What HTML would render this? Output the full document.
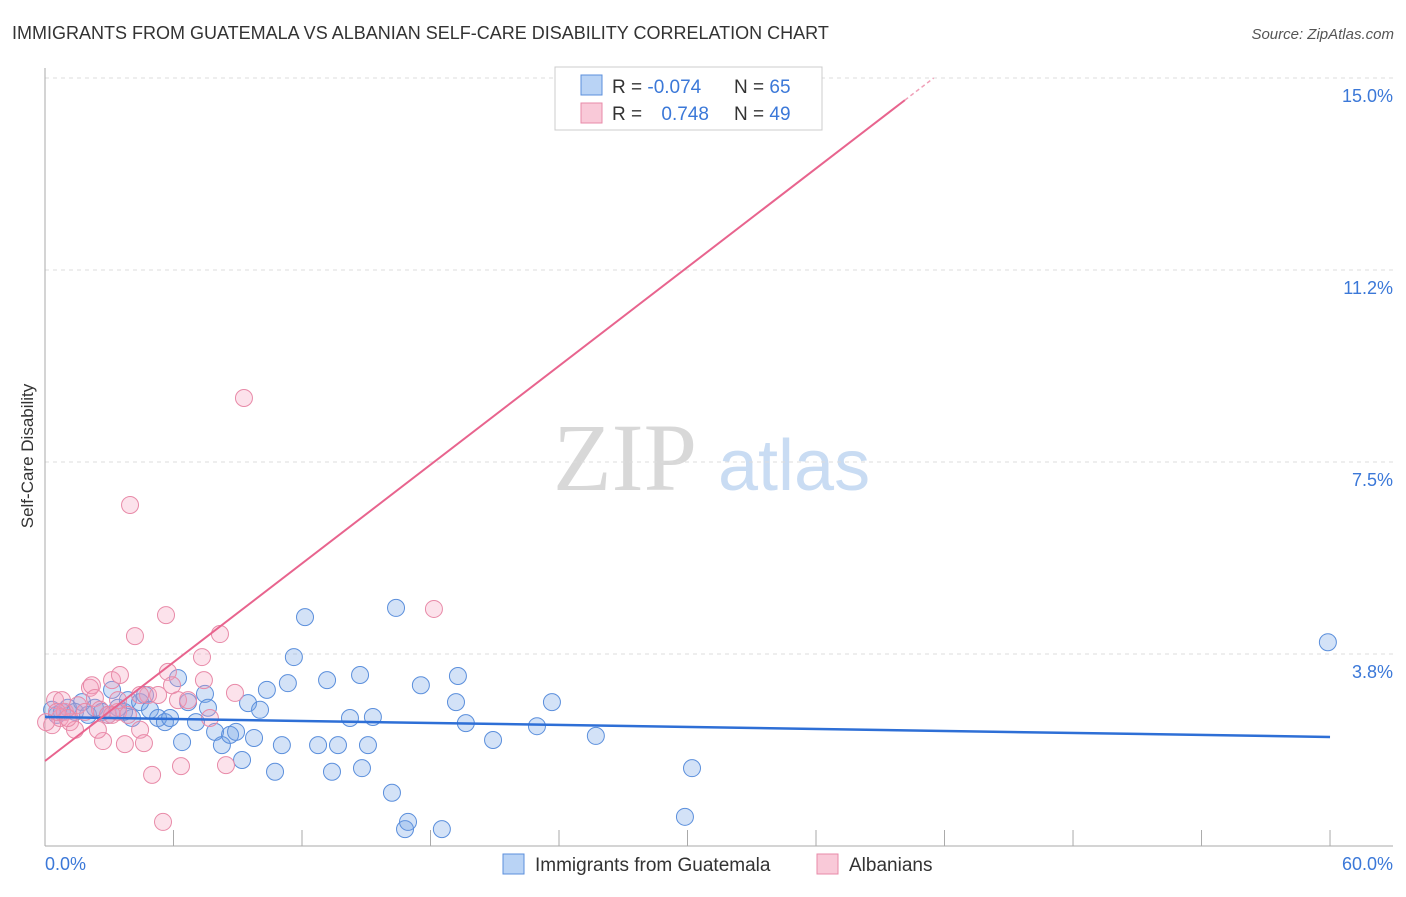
<!DOCTYPE html>
<html><head><meta charset="utf-8"><style>
body{margin:0;background:#fff;font-family:"Liberation Sans",sans-serif}
</style></head><body>
<svg id="chart" width="1406" height="892" xmlns="http://www.w3.org/2000/svg" font-family="Liberation Sans, sans-serif">
<text x="12" y="39" font-size="18" fill="#333">IMMIGRANTS FROM GUATEMALA VS ALBANIAN SELF-CARE DISABILITY CORRELATION CHART</text>
<text x="1394" y="39" font-size="15" fill="#555" text-anchor="end" font-style="italic">Source: ZipAtlas.com</text>
<text x="553" y="490" font-size="96" fill="#d8d8d8" font-family="Liberation Serif, serif">ZIP</text>
<text x="718" y="490" font-size="72" fill="#c9dcf3">atlas</text>
<text transform="translate(33,456) rotate(-90)" font-size="17" fill="#333" text-anchor="middle">Self-Care Disability</text>
<g id="grid"></g><g id="pts"></g><g id="lines"></g>
<g>
<rect x="555" y="67" width="267" height="63" fill="#fff" stroke="#ccc"/>
<rect x="581" y="75" width="21" height="20" fill="#b9d3f5" stroke="#5b8fdc"/>
<rect x="581" y="103" width="21" height="20" fill="#f9c9d8" stroke="#e88aa8"/>
<text x="612" y="93" font-size="19" fill="#333">R = <tspan fill="#3b78d8">-0.074</tspan></text>
<text x="734" y="93" font-size="19" fill="#333">N = <tspan fill="#3b78d8">65</tspan></text>
<text x="612" y="120" font-size="19" fill="#333">R = <tspan fill="#3b78d8" dx="14">0.748</tspan></text>
<text x="734" y="120" font-size="19" fill="#333">N = <tspan fill="#3b78d8">49</tspan></text>
</g>
<g>
<rect x="503" y="854" width="21" height="20" fill="#b9d3f5" stroke="#5b8fdc"/>
<text x="535" y="871" font-size="19" fill="#333">Immigrants from Guatemala</text>
<rect x="817" y="854" width="21" height="20" fill="#f9c9d8" stroke="#e88aa8"/>
<text x="849" y="871" font-size="19" fill="#333">Albanians</text>
</g>
</svg>
<script>
const blueX=[0.33,0.56,0.79,1.07,1.40,1.73,2.01,2.33,2.66,2.94,3.13,3.41,3.69,3.87,4.06,4.44,4.67,4.90,5.28,5.60,5.84,6.21,6.40,6.68,7.05,7.47,7.61,7.94,8.26,8.64,8.92,9.20,9.48,9.76,10.04,10.36,10.74,11.06,11.34,11.62,12.14,12.75,13.17,13.40,13.68,14.24,14.71,14.80,15.08,15.31,16.20,16.39,16.81,16.95,17.55,18.53,19.19,19.28,19.65,20.92,22.97,23.67,25.72,29.88,30.21,59.90];
const blueY=[2.66,2.56,2.62,2.70,2.62,2.81,2.56,2.70,2.62,2.56,3.05,2.70,2.62,2.85,2.50,2.81,2.95,2.66,2.50,2.42,2.50,3.28,2.03,2.81,2.42,2.97,2.70,2.23,1.97,2.17,2.23,1.68,2.79,2.11,2.66,3.05,1.45,1.97,3.18,3.69,4.47,1.97,3.24,1.45,1.97,2.50,3.34,1.52,1.97,2.52,1.04,4.65,0.33,0.47,3.14,0.33,2.81,3.32,2.40,2.07,2.34,2.81,2.15,0.57,1.52,3.98];
const pinkX=[0.33,0.47,0.70,0.93,1.17,1.40,1.54,1.87,2.10,2.19,2.33,2.57,2.71,2.94,3.13,3.41,3.50,3.73,3.97,4.20,4.44,4.62,4.81,5.00,5.28,5.51,5.65,5.74,5.93,6.21,6.35,6.68,7.33,7.42,7.70,8.17,8.45,8.87,9.29,18.16,3.13,2.47,0.79,4.44,3.41,0.56,1.07,3.87,0.05];
const pinkY=[2.36,2.85,2.50,2.62,2.42,2.27,2.75,2.62,3.09,3.14,2.89,2.66,2.05,2.56,3.24,2.62,3.34,1.99,6.66,4.10,2.27,2.01,2.95,1.39,2.95,0.47,4.51,3.40,3.14,2.85,1.56,2.85,3.69,3.24,2.50,4.14,1.58,2.99,8.75,4.63,2.56,2.27,2.85,2.95,2.85,2.62,2.50,2.56,2.42];
const yTicks=[3.75,7.5,11.25,15];
const yTickLabels=["3.8%","7.5%","11.2%","15.0%"];
const xTicks=[0,6,12,18,24,30,36,42,48,54,60];
const blueTrend=[2.52,2.13];
const pinkTrend=[1.66,0.3215];
const NS="http://www.w3.org/2000/svg";
const X=v=>45+v*21.417, Y=v=>846-v*51.2;
function mk(t,a,p){const e=document.createElementNS(NS,t);for(const k in a)e.setAttribute(k,a[k]);document.getElementById(p).appendChild(e);return e;}
yTicks.forEach((v,i)=>{
 const l=mk('line',{x1:45,x2:1393,y1:Y(v),y2:Y(v),stroke:'#ddd','stroke-dasharray':'4,4'},'grid');
 
 
 const t=mk('text',{x:1393,y:Y(v)+24,'font-size':18,fill:'#3b78d8','text-anchor':'end'},'grid');t.textContent=yTickLabels[i];
 
 
});
let ax=mk('line',{x1:45,x2:45,y1:68,y2:846,stroke:'#aaa'},'grid');


ax=mk('line',{x1:45,x2:1393,y1:846,y2:846,stroke:'#aaa'},'grid');


xTicks.forEach(v=>{const l=mk('line',{x1:X(v),x2:X(v),y1:830,y2:846,stroke:'#aaa'},'grid');
 
 });
let t=mk('text',{x:45,y:870,'font-size':18,fill:'#3b78d8'},'grid');t.textContent='0.0%';


t=mk('text',{x:1393,y:870,'font-size':18,fill:'#3b78d8','text-anchor':'end'},'grid');t.textContent='60.0%';


blueX.forEach((v,i)=>{const c=mk('circle',{cx:X(v),cy:Y(blueY[i]),r:8.5,fill:'rgba(110,160,230,0.3)',stroke:'#5b8fdc','stroke-width':1},'pts');
 
 });
pinkX.forEach((v,i)=>{const c=mk('circle',{cx:X(v),cy:Y(pinkY[i]),r:8.5,fill:'rgba(245,160,190,0.3)',stroke:'#e88aa8','stroke-width':1},'pts');
 
 });
let l=mk('line',{x1:X(0),y1:Y(blueTrend[0]),x2:X(60),y2:Y(blueTrend[1]),stroke:'#2e6fd6','stroke-width':2.5},'lines');


const xe=40.15, xm=(15-pinkTrend[0])/pinkTrend[1];
l=mk('line',{x1:X(0),y1:Y(pinkTrend[0]),x2:X(xe),y2:Y(pinkTrend[0]+pinkTrend[1]*xe),stroke:'#e8648e','stroke-width':2},'lines');


l=mk('line',{x1:X(xe),y1:Y(pinkTrend[0]+pinkTrend[1]*xe),x2:X(xm),y2:Y(15),stroke:'#f0a0b8','stroke-width':1.5,'stroke-dasharray':'4,3'},'lines');


</script>
</body></html>
